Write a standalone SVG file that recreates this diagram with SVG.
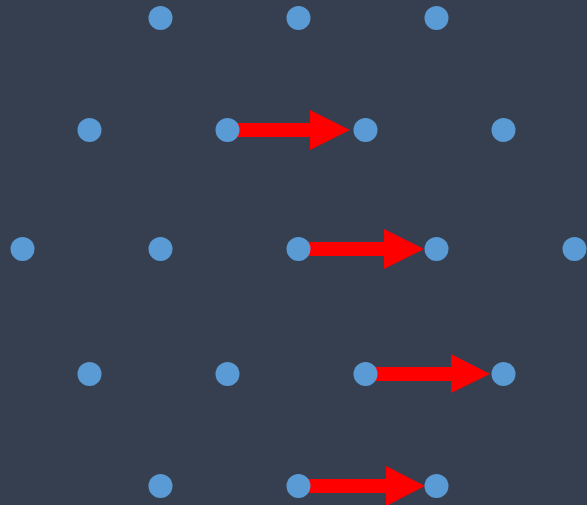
<svg xmlns="http://www.w3.org/2000/svg" width="587" height="505" viewBox="0 0 587 505">
<style>
.dot{fill:#5b9bd5}
.shaft{stroke:#ff0000;stroke-width:14;fill:none}
.head{fill:#ff0000}
</style>
<rect width="587" height="505" fill="#353f50"/>
<g id="connectors">
<line class="shaft" x1="227" y1="130" x2="312" y2="130"/><polygon class="head" points="310,110 350,130 310,150"/>
<line class="shaft" x1="298" y1="249" x2="386" y2="249"/><polygon class="head" points="384,229 424,249 384,269"/>
<line class="shaft" x1="365" y1="374" x2="453" y2="374"/><polygon class="head" points="451,354 490,374 451,393"/>
<line class="shaft" x1="298" y1="486" x2="388" y2="486"/><polygon class="head" points="386,466 425,486 386,506"/>
</g>
<g id="n1"><circle class="dot" cx="160.5" cy="18" r="12"/></g>
<g id="n2"><circle class="dot" cx="298.5" cy="18" r="12"/></g>
<g id="n3"><circle class="dot" cx="436.5" cy="18" r="12"/></g>
<g id="n4"><circle class="dot" cx="89.5" cy="130" r="12"/></g>
<g id="n5"><circle class="dot" cx="227.5" cy="130" r="12"/></g>
<g id="n6"><circle class="dot" cx="365.5" cy="130" r="12"/></g>
<g id="n7"><circle class="dot" cx="503.5" cy="130" r="12"/></g>
<g id="n8"><circle class="dot" cx="22.5" cy="249" r="12"/></g>
<g id="n9"><circle class="dot" cx="160.5" cy="249" r="12"/></g>
<g id="n10"><circle class="dot" cx="298.5" cy="249" r="12"/></g>
<g id="n11"><circle class="dot" cx="436.5" cy="249" r="12"/></g>
<g id="n12"><circle class="dot" cx="574.5" cy="249" r="12"/></g>
<g id="n13"><circle class="dot" cx="89.5" cy="374" r="12"/></g>
<g id="n14"><circle class="dot" cx="227.5" cy="374" r="12"/></g>
<g id="n15"><circle class="dot" cx="365.5" cy="374" r="12"/></g>
<g id="n16"><circle class="dot" cx="503.5" cy="374" r="12"/></g>
<g id="n17"><circle class="dot" cx="160.5" cy="486" r="12"/></g>
<g id="n18"><circle class="dot" cx="298.5" cy="486" r="12"/></g>
<g id="n19"><circle class="dot" cx="436.5" cy="486" r="12"/></g>
</svg>
